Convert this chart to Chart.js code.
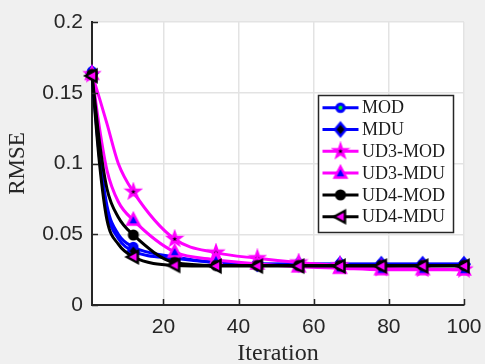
<!DOCTYPE html>
<html>
<head>
<meta charset="utf-8">
<script src="https://cdn.jsdelivr.net/npm/chart.js@4/dist/chart.umd.min.js"></script>
<style>
  html, body { margin: 0; padding: 0; background: #f0f0f0; }
  canvas { display: block; }
</style>
</head>
<body>
<canvas id="rmseChart" width="485" height="364"></canvas>
<script>
// iterations where the curves are read (markers only every 11 iterations)
const iterations = [1, 3, 5, 8, 12, 23, 34, 45, 56, 67, 78, 89, 100];
const markerIterations = [1, 12, 23, 34, 45, 56, 67, 78, 89, 100];

const rmseMOD    = [0.165, 0.108, 0.070, 0.050, 0.041, 0.034, 0.030, 0.029, 0.029, 0.029, 0.029, 0.029, 0.029];
const rmseMDU    = [0.164, 0.104, 0.066, 0.047, 0.038, 0.033, 0.030, 0.029, 0.0288, 0.0288, 0.0288, 0.0288, 0.0288];
const rmseUD3MOD = [0.163, 0.146, 0.128, 0.100, 0.080, 0.0466, 0.037, 0.033, 0.030, 0.028, 0.026, 0.0255, 0.025];
const rmseUD3MDU = [0.163, 0.125, 0.095, 0.073, 0.060, 0.0375, 0.032, 0.029, 0.027, 0.026, 0.025, 0.025, 0.0248];
const rmseUD4MOD = [0.163, 0.115, 0.082, 0.062, 0.0495, 0.030, 0.028, 0.028, 0.028, 0.028, 0.028, 0.028, 0.028];
const rmseUD4MDU = [0.162, 0.100, 0.060, 0.043, 0.034, 0.028, 0.0275, 0.0275, 0.0275, 0.0275, 0.0275, 0.0275, 0.0275];

const seriesNames = ['MOD', 'MDU', 'UD3-MOD', 'UD3-MDU', 'UD4-MOD', 'UD4-MDU'];
const xTicks = [20, 40, 60, 80, 100];
const yTicks = [0, 0.05, 0.1, 0.15, 0.2];

const azul = '#0000ff';
const magenta = '#ff00ff';
const preto = '#000000';
const eixo = '#262626';

// desenha os marcadores estilo matlab num canvas pequeno
function criaMarcador(tipo, borda, fundo) {
  const c = document.createElement('canvas');
  c.width = 20; c.height = 20;
  const g = c.getContext('2d');
  g.translate(10, 10);
  g.lineWidth = 2.5;
  g.lineJoin = 'miter';
  g.strokeStyle = borda;
  g.fillStyle = fundo;
  g.beginPath();
  if (tipo === 'circulo') {
    g.arc(0, 0, 4.3, 0, Math.PI * 2);
  } else if (tipo === 'circuloPeq') {
    g.lineWidth = 3.2;
    g.arc(0, 0, 3.6, 0, Math.PI * 2);
  } else if (tipo === 'losango') {
    g.moveTo(0, -6.5); g.lineTo(5.5, 0); g.lineTo(0, 6.5); g.lineTo(-5.5, 0);
  } else if (tipo === 'estrela') {
    for (let i = 0; i < 10; i++) {
      const r = i % 2 === 0 ? 6.5 : 2.6;
      const a = -Math.PI / 2 + i * Math.PI / 5;
      if (i === 0) g.moveTo(r * Math.cos(a), r * Math.sin(a));
      else g.lineTo(r * Math.cos(a), r * Math.sin(a));
    }
  } else if (tipo === 'trianguloCima') {
    g.moveTo(0, -6.5); g.lineTo(5.8, 4.5); g.lineTo(-5.8, 4.5);
  } else if (tipo === 'trianguloEsq') {
    g.moveTo(-6.5, 0); g.lineTo(4.5, -6); g.lineTo(4.5, 6);
  }
  g.closePath();
  g.fill();
  g.stroke();
  return c;
}

const marcadores = [
  criaMarcador('circuloPeq', azul, '#00ff00'),
  criaMarcador('losango', azul, preto),
  criaMarcador('estrela', magenta, preto),
  criaMarcador('trianguloCima', magenta, azul),
  criaMarcador('circulo', preto, preto),
  criaMarcador('trianguloEsq', preto, magenta)
];
const cores = [azul, azul, magenta, magenta, preto, preto];
const valores = [rmseMOD, rmseMDU, rmseUD3MOD, rmseUD3MDU, rmseUD4MOD, rmseUD4MDU];

const datasets = seriesNames.map((nome, i) => ({
  label: nome,
  data: iterations.map((x, j) => ({ x: x, y: valores[i][j] })),
  borderColor: cores[i],
  borderWidth: 3,
  cubicInterpolationMode: 'monotone',
  pointStyle: marcadores[i],
  pointRadius: ctx => markerIterations.includes(ctx.raw.x) ? 5 : 0,
  order: seriesNames.length - i,
  clip: false
}));

// fundo branco só na área do gráfico
const fundoArea = {
  id: 'fundoArea',
  beforeDraw(chart) {
    const { ctx, chartArea } = chart;
    ctx.save();
    ctx.fillStyle = '#ffffff';
    ctx.fillRect(chartArea.left, chartArea.top, chartArea.right - chartArea.left, chartArea.bottom - chartArea.top);
    ctx.restore();
  }
};

// ticks para dentro + legenda dentro do gráfico
const extras = {
  id: 'extras',
  afterDraw(chart) {
    const { ctx, chartArea, scales } = chart;
    ctx.save();
    ctx.strokeStyle = eixo;
    ctx.lineWidth = 1.5;
    ctx.beginPath();
    yTicks.forEach(v => {
      const y = Math.round(scales.y.getPixelForValue(v)) + 0.5;
      ctx.moveTo(chartArea.left, y);
      ctx.lineTo(chartArea.left + 6, y);
    });
    xTicks.forEach(v => {
      const x = Math.round(scales.x.getPixelForValue(v)) + 0.5;
      ctx.moveTo(x, chartArea.bottom);
      ctx.lineTo(x, chartArea.bottom - 6);
    });
    ctx.stroke();

    // legenda
    const lx = 318.5, ly = 95.5, lw = 135, lh = 137;
    ctx.fillStyle = '#ffffff';
    ctx.fillRect(lx, ly, lw, lh);
    ctx.lineWidth = 1.5;
    ctx.strokeStyle = eixo;
    ctx.strokeRect(lx, ly, lw, lh);
    ctx.font = '18px "Liberation Serif", serif';
    ctx.textBaseline = 'middle';
    ctx.textAlign = 'left';
    seriesNames.forEach((nome, i) => {
      const y = 107.7 + i * 21.8;
      ctx.strokeStyle = cores[i];
      ctx.lineWidth = 3;
      ctx.beginPath();
      ctx.moveTo(322.5, y);
      ctx.lineTo(358.5, y);
      ctx.stroke();
      ctx.drawImage(marcadores[i], 340.5 - 10, y - 10);
      ctx.fillStyle = '#1a1a1a';
      ctx.fillText(nome, 362, y + 1);
    });
    ctx.restore();
  }
};

const ctx = document.getElementById('rmseChart').getContext('2d');
new Chart(ctx, {
  type: 'line',
  data: { datasets: datasets },
  options: {
    responsive: false,
    animation: false,
    events: [],
    layout: { padding: { top: 22, right: 21, left: 0, bottom: 0 } },
    plugins: {
      legend: { display: false },
      tooltip: { enabled: false }
    },
    scales: {
      x: {
        type: 'linear',
        min: 1,
        max: 100,
        afterBuildTicks: scale => { scale.ticks = xTicks.map(v => ({ value: v })); },
        afterFit: scale => {
          scale.height = 59;
          scale.paddingLeft = 0;
          scale.paddingRight = 0;
        },
        grid: { color: '#e3e3e3', lineWidth: 1.5, drawTicks: false },
        border: { color: eixo, width: 2 },
        ticks: {
          color: eixo,
          padding: 10,
          maxRotation: 0,
          font: { family: '"Liberation Sans", Arial, sans-serif', size: 21 }
        },
        title: {
          display: true,
          text: 'Iteration',
          color: eixo,
          padding: { top: 0, bottom: -4 },
          font: { family: '"Liberation Serif", serif', size: 24 }
        }
      },
      y: {
        type: 'linear',
        min: 0,
        max: 0.2,
        afterBuildTicks: scale => { scale.ticks = yTicks.map(v => ({ value: v })); },
        afterFit: scale => {
          scale.width = 92;
          scale.paddingTop = 0;
          scale.paddingBottom = 0;
        },
        grid: { color: '#e3e3e3', lineWidth: 1.5, drawTicks: false },
        border: { color: eixo, width: 2 },
        ticks: {
          color: eixo,
          padding: 9,
          callback: v => String(v),
          font: { family: '"Liberation Sans", Arial, sans-serif', size: 21 }
        },
        title: {
          display: true,
          text: 'RMSE',
          color: eixo,
          padding: { top: 4, bottom: 0 },
          font: { family: '"Liberation Serif", serif', size: 23 }
        }
      }
    }
  },
  plugins: [fundoArea, extras]
});
</script>
</body>
</html>
